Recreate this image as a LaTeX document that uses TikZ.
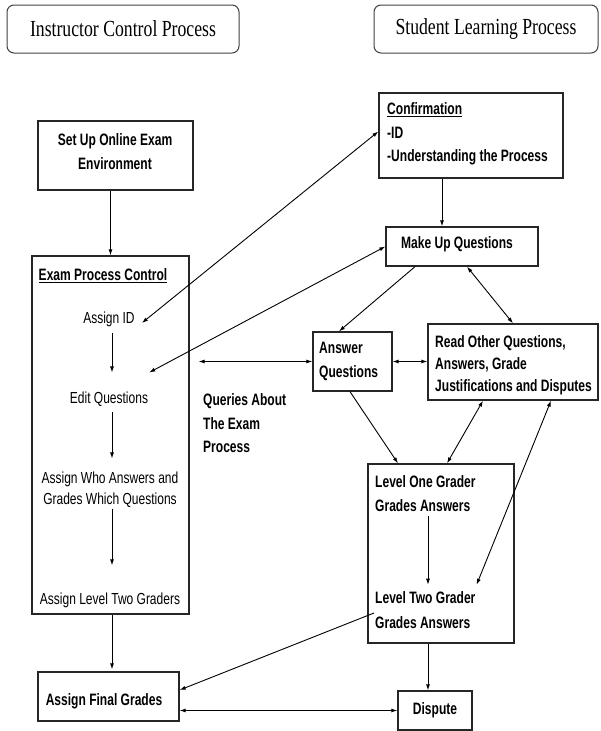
\documentclass[tikz,border=0pt]{standalone}
\usepackage{fontspec}
\usetikzlibrary{arrows.meta}
\newfontfamily\nfont[FakeStretch=0.75]{Liberation Sans}
\newfontfamily\bfont[FakeStretch=0.73]{Liberation Sans Bold}
\newfontfamily\hfont[FakeStretch=0.77]{Liberation Serif}
\begin{document}
\begin{tikzpicture}[x=1pt,y=-1pt,
  box/.style={draw=black!85, line width=1.3pt, inner sep=0pt},
  hdr/.style={draw=black!75, line width=1pt, rounded corners=7pt, inner sep=0pt, font=\hfont\fontsize{23}{26}\selectfont},
  txt/.style={inner sep=1pt, font=\nfont\fontsize{16}{21}\selectfont},
  btxt/.style={inner sep=1pt, font=\bfont\fontsize{16.5}{23.5}\selectfont},
  arr/.style={line width=0.9pt, -{Latex[length=6pt,width=4pt]}},
  darr/.style={line width=0.9pt, {Latex[length=6pt,width=4pt]}-{Latex[length=6pt,width=4pt]}}]
\useasboundingbox (0,0) rectangle (600,731);
\coordinate (ax) at (112,0);
\coordinate (lx) at (428,0);
% headers
\node[hdr, minimum width=232pt, minimum height=48pt] (hI) at (123,29) {Instructor Control Process};
\node[hdr, minimum width=224pt, minimum height=48pt] (hS) at (486,29) {Student Learning Process};
% left column
\node[box, minimum width=155pt, minimum height=69pt] (setup) at (115.5,155.5) {};
\node[btxt, align=center] (setupT) at (115,151.5) {Set Up Online Exam\\Environment};
\node[box, minimum width=157pt, minimum height=358pt] (exam) at (110.5,435) {};
\node[btxt] (examT) at (103,276) {\underline{Exam Process Control}};
\node[txt] (aid) at (109,319) {Assign ID};
\node[txt] (editq) at (109,399) {Edit Questions};
\node[txt, align=center] (who) at (110,489.5) {Assign Who Answers and\\Grades Which Questions};
\node[txt] (l2g) at (110,600) {Assign Level Two Graders};
\node[box, minimum width=141pt, minimum height=49pt] (final) at (108.5,696.5) {};
\node[btxt] (finalT) at (104,701) {Assign Final Grades};
\node[btxt, align=left, anchor=west] (queries) at (202,423.5) {Queries About\\The Exam\\Process};
% right column
\node[box, minimum width=184pt, minimum height=85pt] (conf) at (471,135.5) {};
\node[btxt, align=left, anchor=west] (confT) at (386,134) {\underline{Confirmation}\\-ID\\-Understanding the Process};
\node[box, minimum width=152pt, minimum height=39pt] (makeup) at (462,246.5) {};
\node[btxt] (makeupT) at (457,244) {Make Up Questions};
\node[box, minimum width=79pt, minimum height=59pt] (answer) at (352.5,361.5) {};
\node[btxt, align=left, anchor=west] (answerT) at (318,361.5) {Answer\\Questions};
\node[box, minimum width=170pt, minimum height=76pt] (read) at (513,362) {};
\node[btxt, align=left, anchor=west, font=\bfont\fontsize{16.5}{22}\selectfont] (readT) at (434,365) {Read Other Questions,\\Answers, Grade\\Justifications and Disputes};
\node[box, minimum width=146pt, minimum height=179pt] (level) at (441,553.5) {};
\node[btxt, align=left, anchor=west, font=\bfont\fontsize{16.5}{24}\selectfont] (l1) at (374,494) {Level One Grader\\Grades Answers};
\node[btxt, align=left, anchor=west, font=\bfont\fontsize{16.5}{25}\selectfont] (l2) at (374,610.5) {Level Two Grader\\Grades Answers};
\node[box, minimum width=74pt, minimum height=39pt] (dispute) at (435,710.5) {};
\node[btxt] (disputeT) at (435,710) {Dispute};
% connectors left
\draw[arr] (setup.south -| exam.north) -- (exam.north);
\draw[arr, shorten <=5.5pt, shorten >=18pt] (aid.south -| ax) -- (editq.north -| ax);
\draw[arr, shorten <=4pt, shorten >=12pt] (editq.south -| ax) -- (who.north -| ax);
\draw[arr, shorten >=26pt] (who.south -| ax) -- (l2g.north -| ax);
\draw[arr, shorten >=2pt] (exam.south -| ax) -- (final.north -| ax);
% cross connectors
\draw[darr] ([shift={(6pt,-4pt)}]aid.east) -- ([yshift=4pt]conf.west);
\draw[darr] ([yshift=18pt]editq.north east) -- (makeup.west);
\draw[darr] ([xshift=9pt]exam.east |- answer.west) -- (answer.west);
\draw[darr] (answer.east) -- (answer.east -| read.west);
% right connectors
\draw[arr] ([xshift=-29pt]conf.south) -- ([xshift=-29pt]conf.south |- makeup.north);
\draw[arr] ([xshift=-47pt]makeup.south) -- ([xshift=-13.5pt]answer.north);
\draw[darr] ([xshift=5pt]makeup.south) -- (read.north);
\draw[arr] ([xshift=-2.5pt]answer.south) -- ([xshift=-43pt]level.north);
\draw[darr] ([xshift=-30pt]read.south) -- ([xshift=6pt]level.north);
\draw[darr] ([xshift=38pt]read.south) -- ([yshift=6pt]l2.north east);
\draw[arr, shorten <=3pt, shorten >=6pt] (l1.south -| lx) -- (l2.north -| lx);
\draw[arr] ([yshift=-2.5pt]l2.west) -- ([yshift=6.5pt]final.east);
\draw[arr] (level.south -| lx) -- (dispute.north -| lx);
\draw[darr] (final.east |- dispute.west) -- (dispute.west);
\end{tikzpicture}
\end{document}
